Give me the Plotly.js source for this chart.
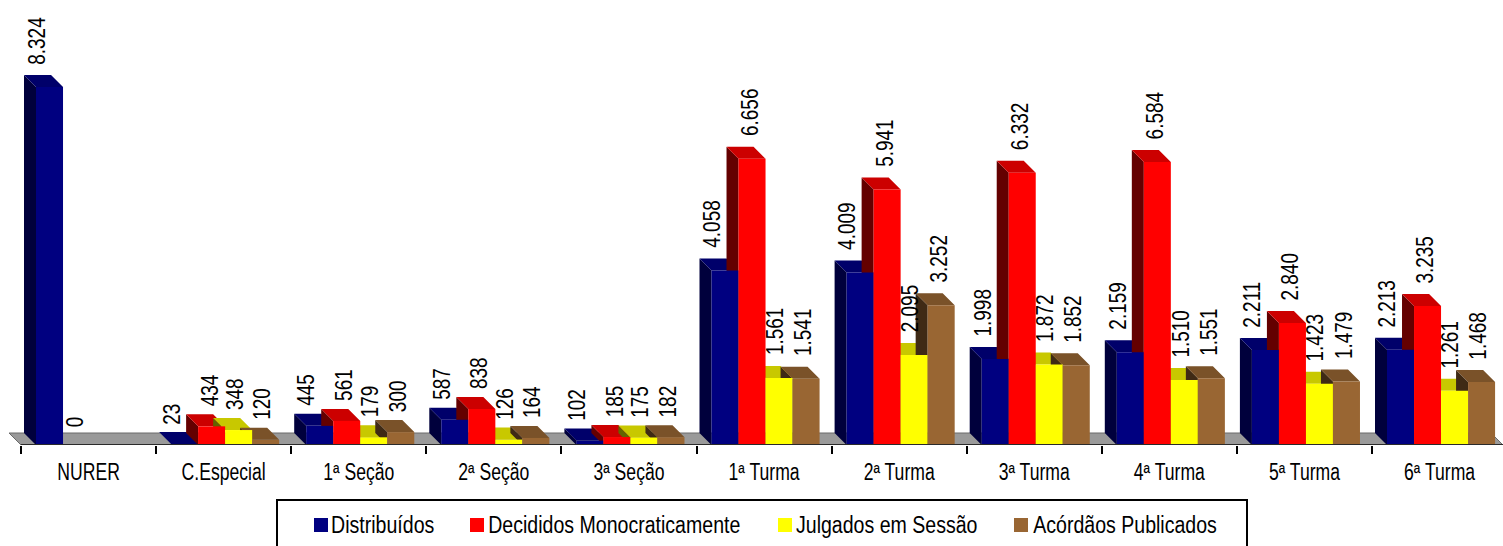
<!DOCTYPE html>
<html>
<head>
<meta charset="utf-8">
<script src="https://cdn.plot.ly/plotly-3.0.1.min.js"></script>
<style>html,body{margin:0;padding:0;background:#fff;overflow:hidden}#chart{width:1503px;height:546px}</style>
</head>
<body>
<div id="chart"></div>
<script>
// ---- data ----
const categories = ['NURER','C.Especial','1ª Seção','2ª Seção','3ª Seção','1ª Turma','2ª Turma','3ª Turma','4ª Turma','5ª Turma','6ª Turma'];
const distribuidos = [8324, 23, 445, 587, 102, 4058, 4009, 1998, 2159, 2211, 2213];
const decididos    = [0, 434, 561, 838, 185, 6656, 5941, 6332, 6584, 2840, 3235];
const julgados     = [null, 348, 179, 126, 175, 1561, 2095, 1872, 1510, 1423, 1261];
const acordaos     = [null, 120, 300, 164, 182, 1541, 3252, 1852, 1551, 1479, 1468];
const seriesNames  = ['Distribuídos','Decididos Monocraticamente','Julgados em Sessão','Acórdãos Publicados'];
const seriesValues = [distribuidos, decididos, julgados, acordaos];
const frontColors  = ['#000080','#ff0000','#ffff00','#996633'];
const sideColors   = ['#00003c','#640000','#646400','#3f2a15'];
const topColors    = ['#00006a','#cc0000','#c8c800','#7a5229'];

// ---- geometry (chart scale) ----
const W = 1503, H = 546, ML = 0, MT = 0, MB = 101, MR = 0, AXIS_LEFT = 21;
const CAT_PX = 135.1, PX_PER_UNIT = 0.043, DEPTH_PX = 12;
const DX = DEPTH_PX / CAT_PX, DY = DEPTH_PX / PX_PER_UNIT;
const BAR_W = 0.2, GROUP_START = -0.389;
const xMin = -0.5 - AXIS_LEFT / CAT_PX;
const xRange = [xMin, xMin + W / CAT_PX];
const yRange = [0, (H - MT - MB) / PX_PER_UNIT];
const FONT = '"Liberation Sans",Arial,sans-serif';
const idx = categories.map((_, i) => i);

function polyTrace(xs, ys, color, lineColor, lineWidth) {
  return {type:'scatter', mode:'lines', x:xs, y:ys, fill:'toself', fillcolor:color,
          line:{width:lineWidth || 0, color:lineColor || color}, hoverinfo:'skip', showlegend:false, yaxis:'y'};
}

const traces = [];
// floor of the chart
traces.push(polyTrace(
  [-0.5, xRange[1], xRange[1]-DX, -0.5-DX, -0.5],
  [0, 0, DY, DY, 0], '#9a9a9a', '#6a6a6a', 1));

// back faces (side and top) are painted first, series by series
seriesValues.forEach((vals, s) => {
  const sx = [], sy = [], tx = [], ty = [];
  vals.forEach((v, i) => {
    if (!v) return;
    const l = i + GROUP_START + s * BAR_W, r = l + BAR_W;
    sx.push(l, l-DX, l-DX, l, l, null);
    sy.push(0, DY, v+DY, v, 0, null);
    tx.push(l, l-DX, r-DX, r, l, null);
    ty.push(v, v+DY, v+DY, v, v, null);
  });
  traces.push(polyTrace(sx, sy, sideColors[s]));
  traces.push(polyTrace(tx, ty, topColors[s]));
});
// front faces sit in an overlaid subplot so they cover every back face
seriesValues.forEach((vals, s) => {
  traces.push({type:'bar', name:seriesNames[s], x:idx, y:vals, width:BAR_W,
    offset:GROUP_START + s*BAR_W, marker:{color:frontColors[s], line:{width:0}},
    showlegend:false, yaxis:'y2', hovertemplate:'%{y}<extra>'+seriesNames[s]+'</extra>'});
});

// value labels
const fmt = v => v >= 1000 ? Math.floor(v/1000) + '.' + String(v%1000).padStart(3,'0') : String(v);
const labelShift = [0, 11, 9, 10];
const annotations = [];
seriesValues.forEach((vals, s) => vals.forEach((v, i) => {
  if (v === null) return;
  annotations.push({xref:'x', yref:'y', x:i + GROUP_START + s*BAR_W, y:v, text:fmt(v), showarrow:false,
    textangle:-90, xanchor:'center', yanchor:'bottom', xshift:labelShift[s], yshift:DEPTH_PX+2,
    font:{family:FONT, size:24, color:'#000'}});
}));

// legend box contents
const legendSwatch = [314, 470, 778, 1014];
const legendCentre = [382.5, 614, 886.5, 1124.5];
const px2x = p => p / W;
const px2y = p => (H - MB - p) / (H - MT - MB);
const shapes = [];
shapes.push({type:'rect', xref:'paper', yref:'paper', layer:'above',
  x0:px2x(277), x1:px2x(1247), y0:px2y(560), y1:px2y(500),
  line:{color:'#000', width:2}, fillcolor:'rgba(0,0,0,0)'});
seriesNames.forEach((n, s) => {
  const px = legendSwatch[s];
  shapes.push({type:'rect', xref:'paper', yref:'paper', layer:'above',
    x0:px2x(px), x1:px2x(px+14), y0:px2y(532), y1:px2y(518),
    line:{width:0}, fillcolor:frontColors[s]});
  annotations.push({xref:'paper', yref:'paper', x:px2x(legendCentre[s]), y:px2y(525),
    xanchor:'center', yanchor:'middle', showarrow:false, text:n,
    font:{family:FONT, size:23, color:'#000'}});
});
// baseline along the front of the floor
shapes.push({type:'line', xref:'x', yref:'y', layer:'above', x0:-0.5, x1:xRange[1], y0:0, y1:0,
  line:{color:'#2a2a2a', width:2}});

const boundaries = [];
for (let i = 0; i <= categories.length; i++) boundaries.push(i - 0.5);

const layout = {
  width:W, height:H, margin:{l:ML, r:MR, t:MT, b:MB, pad:0},
  paper_bgcolor:'#fff', plot_bgcolor:'rgba(0,0,0,0)',
  barmode:'overlay', showlegend:false, hovermode:'closest',
  xaxis:{range:xRange, tickmode:'array', tickvals:idx, ticktext:categories, ticks:'', ticklen:0,
    tickfont:{family:FONT, size:23, color:'#000'}, showgrid:false, zeroline:false,
    showline:false, fixedrange:true, ticklabelstandoff:11,
    minor:{tickmode:'array', tickvals:boundaries, ticks:'outside', ticklen:8, tickwidth:2, tickcolor:'#000', showgrid:false}},
  yaxis:{range:yRange, visible:false, fixedrange:true},
  yaxis2:{overlaying:'y', range:yRange, visible:false, fixedrange:true},
  annotations:annotations, shapes:shapes
};

// The reference uses a condensed face; squeeze the installed face to the same set width.
function condense(t, ratio) {
  t.setAttribute('textLength', (t.getComputedTextLength() * ratio).toFixed(2));
  t.setAttribute('lengthAdjust', 'spacingAndGlyphs');
}
Plotly.newPlot('chart', traces, layout, {displayModeBar:false, staticPlot:true}).then(() => {
  document.querySelectorAll('.xtick text').forEach(t => condense(t, 0.765));
  const anns = document.querySelectorAll('.annotation');
  anns.forEach((a, i) => {
    const isLegend = i >= anns.length - seriesNames.length;
    condense(a.querySelector('text'), isLegend ? 0.85 : 0.79);
  });
});
</script>
</body>
</html>
